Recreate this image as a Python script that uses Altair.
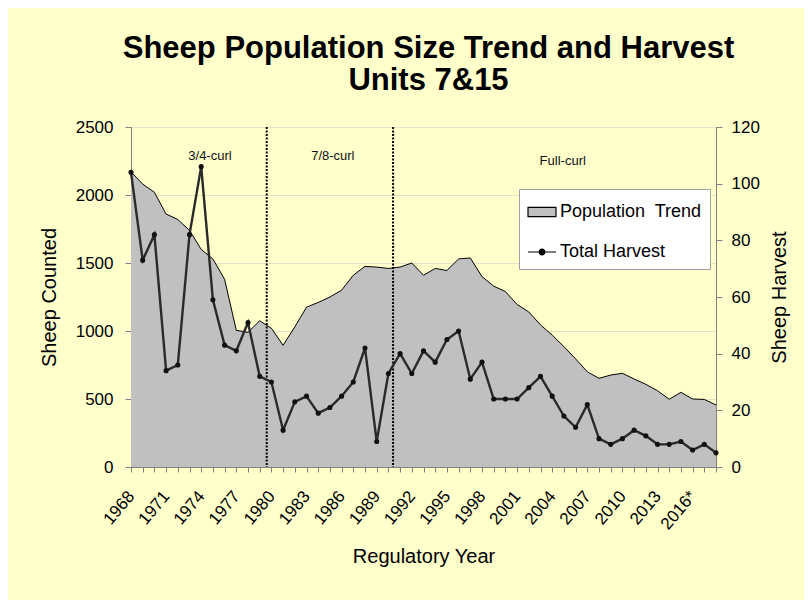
import altair as alt
import pandas as pd

# ---- data ----
years = list(range(1968, 2019))
population = [2170, 2080, 2020, 1860, 1820, 1740, 1600, 1530, 1380, 1005, 990, 1075,
              1020, 895, 1030, 1175, 1210, 1250, 1300, 1410, 1475, 1470, 1460, 1470,
              1500, 1410, 1460, 1445, 1530, 1537, 1400, 1330, 1290, 1195, 1140, 1045,
              970, 885, 795, 700, 652, 676, 689, 647, 608, 561, 498, 549, 500, 497, 456]
harvest = [104, 73, 82, 34, 36, 82, 106, 59, 43, 41, 51, 32,
           30, 13, 23, 25, 19, 21, 25, 30, 42, 9, 33, 40,
           33, 41, 37, 45, 48, 31, 37, 24, 24, 24, 28, 32,
           25, 18, 14, 22, 10, 8, 10, 13, 11, 8, 8, 9, 6, 8, 5]

tick_years = [1968, 1971, 1974, 1977, 1980, 1983, 1986, 1989, 1992, 1995,
              1998, 2001, 2004, 2007, 2010, 2013, 2016]
tick_labels = ["1968", "1971", "1974", "1977", "1980", "1983", "1986", "1989", "1992", "1995",
               "1998", "2001", "2004", "2007", "2010", "2013", "2016*"]

curl_breaks = [1979.6, 1990.4]
curl_names = ["3/4-curl", "7/8-curl", "Full-curl"]
curl_label_x = [1974.75, 1985.25, 2004.9]
curl_label_y = [2290, 2290, 2250]

legend_labels = ["Population\u00a0 Trend", "Total Harvest"]

left_ticks = [0, 500, 1000, 1500, 2000, 2500]
right_ticks = [0, 20, 40, 60, 80, 100, 120]

# ---- tables ----
df = pd.DataFrame({"year": years, "population": population, "harvest": harvest})
breaks_df = pd.DataFrame({"year": curl_breaks})
notes_df = pd.DataFrame({"year": curl_label_x, "population": curl_label_y, "label": curl_names})
legend_df = pd.DataFrame({"series": legend_labels})

label_expr = " : ".join(f"datum.value == {y} ? '{l}'" for y, l in zip(tick_years, tick_labels)) + " : ''"

FONT = "Liberation Sans"
x_scale = alt.Scale(domain=[years[0], years[-1]], nice=False, zero=False)
x_axis = alt.Axis(values=years, labelExpr=label_expr, labelAngle=-50, labelAlign="right",
                  labelBaseline="middle", labelOverlap=False, labelFlush=False, labelBound=False,
                  tickSize=5, labelPadding=21, labelOffset=0, grid=False,
                  title="Regulatory Year", titlePadding=14)


def X():
    return alt.X("year:Q", scale=x_scale, axis=x_axis)


left_scale = alt.Scale(domain=[0, 2500], nice=False)
left_axis = alt.Axis(values=left_ticks, format="d", title="Sheep Counted", tickSize=6, labelPadding=12,
                     grid=True, gridColor="#E2E2C4", titlePadding=16)
right_scale = alt.Scale(domain=[0, 120], nice=False)
right_axis = alt.Axis(values=right_ticks, format="d", orient="right", title="Sheep Harvest", tickSize=6,
                      labelPadding=9, grid=False, titleAngle=-90, titleBaseline="top",
                      titlePadding=10)

area = alt.Chart(df).mark_area(color="#C0C0C0", opacity=1, fillOpacity=1,
                               line={"color": "black", "strokeWidth": 1}).encode(
    x=X(),
    y=alt.Y("population:Q", scale=left_scale, axis=left_axis),
)
rules = alt.Chart(breaks_df).mark_rule(color="black", strokeWidth=2, strokeDash=[2, 1.5]).encode(
    x=X(),
)
notes = alt.Chart(notes_df).mark_text(font=FONT, fontSize=13, color="#111111", baseline="middle").encode(
    x=X(),
    y=alt.Y("population:Q", scale=left_scale, axis=left_axis),
    text="label:N",
)
left = alt.layer(area, rules, notes)

hline = alt.Chart(df).mark_line(color="#2a2a2a", strokeWidth=2.4).encode(
    x=X(),
    y=alt.Y("harvest:Q", scale=right_scale, axis=right_axis),
)
hpts = alt.Chart(df).mark_circle(size=26, color="#111111", opacity=1).encode(
    x=X(),
    y=alt.Y("harvest:Q", scale=right_scale, axis=right_axis),
)

rect_path = "M-1,-0.33L1,-0.33L1,0.33L-1,0.33Z"
linedot_path = "M-1,0L1,0M0.2,0A0.2,0.2,0,1,1,-0.2,0A0.2,0.2,0,1,1,0.2,0Z"
leg = alt.Legend(title=None, orient="none", legendX=388, legendY=62, fillColor="white",
                 strokeColor="#A0A0A0", padding=8, labelFont=FONT, labelFontSize=18,
                 labelColor="black", labelOffset=3, rowPadding=16, symbolSize=784,
                 symbolStrokeWidth=1.2, labelLimit=300)
legend_layer = alt.Chart(legend_df).mark_point(filled=True, opacity=1, clip=True).encode(
    x=alt.value(-300), y=alt.value(-300),
    color=alt.Color("series:N", scale=alt.Scale(domain=legend_labels, range=["#C0C0C0", "black"]), legend=leg),
    shape=alt.Shape("series:N", scale=alt.Scale(domain=legend_labels, range=[rect_path, linedot_path]), legend=leg),
    stroke=alt.Stroke("series:N", scale=alt.Scale(domain=legend_labels, range=["black", "black"]), legend=leg),
)
right = alt.layer(hline, hpts, legend_layer)

chart = alt.layer(left, right).resolve_scale(y="independent").properties(
    width=585, height=340,
    autosize=alt.AutoSizeParams(type="none"),
    padding={"left": 123, "top": 119, "right": 88, "bottom": 133},
    background="#FFFFCC",
    title=alt.TitleParams(text=["Sheep Population Size Trend and Harvest", "Units 7&15"],
                          font=FONT, fontSize=31, fontWeight="bold", color="black",
                          anchor="middle", lineHeight=32, offset=21, dx=5),
).configure_view(fill="#FFFFCC", stroke="#808080", strokeWidth=1).configure_axis(
    labelFont=FONT, labelFontSize=17, labelColor="black", titleFont=FONT, titleFontSize=20,
    titleFontWeight="normal", titleColor="black", domainColor="#808080", tickColor="#808080",
).configure_axisX(labelOverlap=False)

chart.save("out.html", embed_options={"renderer": "svg", "actions": False})
